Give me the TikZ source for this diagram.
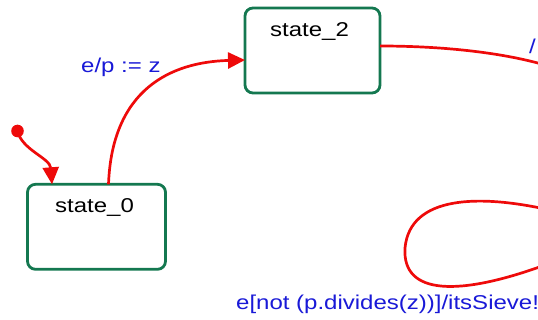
\documentclass[tikz,border=0pt]{standalone}
\usepackage{fontspec}
\setmainfont[FakeStretch=1.2]{Liberation Sans}
\usetikzlibrary{arrows.meta}
\definecolor{stgreen}{RGB}{20,120,80}
\definecolor{trred}{RGB}{238,10,10}
\definecolor{lblblue}{RGB}{25,25,215}
\tikzset{
  statebox/.style={draw=stgreen, line width=2.8pt, rounded corners=8pt, outer sep=0pt, inner sep=0pt},
  statetext/.style={anchor=base west, inner sep=0pt, font=\fontsize{20}{24}\selectfont, text=black},
  lbl/.style={anchor=base west, inner sep=0pt, font=\fontsize{20}{24}\selectfont, text=lblblue},
  trans/.style={draw=trred, line width=2.7pt},
  tip/.style={-{Triangle[length=17pt,width=16pt]}},
}
\begin{document}
\begin{tikzpicture}[x=1pt,y=-1pt]
\useasboundingbox (0,0) rectangle (538,320);
\clip (0,0) rectangle (538,320);
% states
\node[statebox, minimum width=135pt, minimum height=85pt] (s2) at (312.5,50.5) {};
\node[statebox, minimum width=138pt, minimum height=85pt] (s0) at (96.5,226.8) {};
\node[statetext] (t2) at (270,37) {state\_2};
\node[statetext] (t0) at (55,213) {state\_0};
% initial
\fill[trred] (17.5,131) circle (6.3pt);
\coordinate (init) at (17.5,131);
\draw[trans, tip] (init) .. controls (22,150) and (50,158) .. ([xshift=-44.5pt]s0.north);
% state_0 -> state_2
\draw[trans, tip] ([xshift=12pt]s0.north) .. controls (112,90) and (170,62) .. ([yshift=-9.5pt]s2.west);
\node[lbl] (l1) at (81,73) {e/p := z};
% state_2 -> off-picture
\coordinate (offA) at (545,65);
\draw[trans] ([yshift=4.5pt]s2.east) .. controls (440,46) and (500,52) .. (offA);
\node[lbl] (l2) at (529,54) {/};
% loop of an off-picture state
\coordinate (loopA) at (545,209);
\coordinate (loopB) at (545,265);
\draw[trans] (loopA) .. controls (480,195) and (410,195) .. (405,248) .. controls (402,296) and (460,296) .. (loopB);
\node[lbl] (l3) at (236,309) {e[not (p.divides(z))]/itsSieve!};
\end{tikzpicture}
\end{document}
